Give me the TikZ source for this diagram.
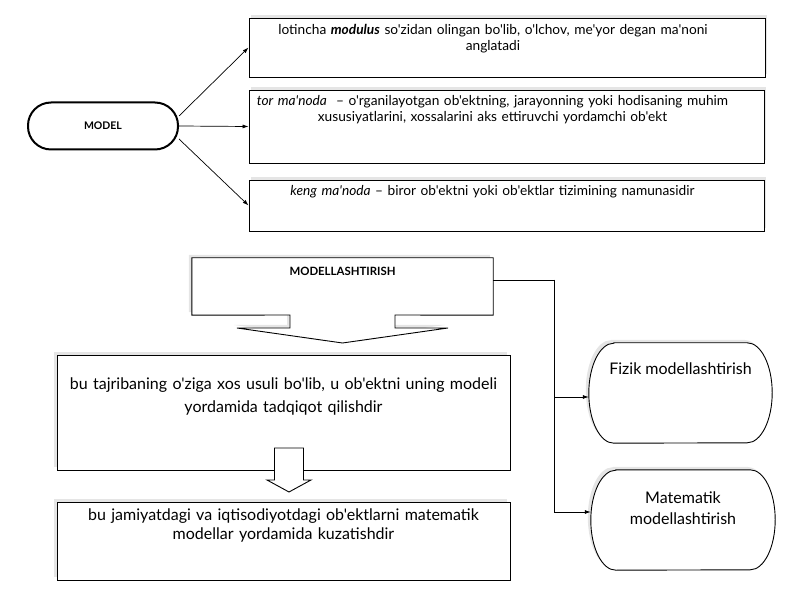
\documentclass[tikz,border=0pt]{standalone}
\usepackage{fontspec}
\setmainfont{Lato}[Ligatures=TeXOff]
\usetikzlibrary{arrows.meta,shadows}
\begin{document}
\begin{tikzpicture}[x=1pt,y=1pt,
	kbox/.style={draw,line width=0.9pt,fill=white,inner sep=0pt},
	soya1/.style={drop shadow={shadow xshift=2pt,shadow yshift=3pt,fill=gray!40}},
	soya2/.style={drop shadow={shadow xshift=-3pt,shadow yshift=3pt,fill=gray!40}},
	matn/.style={inner sep=0pt,align=center,anchor=north},
	kichik/.style={font=\fontsize{13.7}{16}\selectfont},
	katta/.style={font=\fontsize{16}{23}\selectfont},
	ok/.style={-{Latex[length=6pt,width=4pt]},line width=0.7pt}]
	\useasboundingbox (0,0) rectangle (800,600);
	% MODEL va uning ta'riflari
	\node[kbox,line width=2pt,rounded corners=23pt,minimum width=150pt,minimum height=47pt,font=\bfseries\fontsize{10.5}{12}\selectfont] (model) at (103,474) {MODEL};
	\node[kbox,soya1,minimum width=516pt,minimum height=59pt] (t1) at (507,552.5) {};
	\node[kbox,soya1,minimum width=515pt,minimum height=73pt] (t2) at (506.5,473.5) {};
	\node[kbox,soya1,minimum width=515pt,minimum height=51pt] (t3) at (506.5,394.5) {};
	\node[matn,kichik,text width=510pt] (t1m) at ([xshift=-14pt,yshift=-7pt]t1.north) {lotincha \textbf{\textit{modulus}} so'zidan olingan bo'lib, o'lchov, me'yor degan ma'noni\\ anglatadi};
	\node[matn,kichik,text width=510pt] (t2m) at ([xshift=-14pt,yshift=-6pt]t2.north) {\textit{tor ma'noda}\ \ – o'rganilayotgan ob'ektning, jarayonning yoki hodisaning muhim\\ xususiyatlarini, xossalarini aks ettiruvchi yordamchi ob'ekt};
	\node[matn,kichik,text width=510pt] (t3m) at ([xshift=-14pt,yshift=-5.5pt]t3.north) {\textit{keng ma'noda} – biror ob'ektni yoki ob'ektlar tizimining namunasidir};
	\draw[ok] ([yshift=10pt]model.east) -- (t1.west);
	\draw[ok] (model.east) -- (t2.west);
	\draw[ok] ([yshift=-13pt]model.east) -- (t3.west);
	% MODELLASHTIRISH
	\node[inner sep=0pt,minimum width=301pt,minimum height=57pt] (mod) at (342.5,313.5) {};
	\draw[kbox,soya2] (mod.north west) -- (mod.north east) -- (mod.south east) -- (395,285) -- (395,272) -- (448,272) -- (342.5,257) -- (237,272) -- (290,272) -- (290,285) -- (mod.south west) -- cycle;
	\node[matn,font=\bfseries\fontsize{11.4}{13}\selectfont] (modm) at ([yshift=-8.9pt]mod.north) {MODELLASHTIRISH};
	\node[kbox,soya2,minimum width=453pt,minimum height=115pt] (c1) at (283.5,187.5) {};
	\node[kbox,soya2,minimum width=453pt,minimum height=78pt] (c2) at (283.5,59) {};
	\node[matn,katta,text width=450pt] (c1m) at ([yshift=-22.8pt]c1.north) {bu tajribaning o'ziga xos usuli bo'lib, u ob'ektni uning modeli\\ yordamida tadqiqot qilishdir};
	\node[matn,text width=450pt,font=\fontsize{16}{18.3}\selectfont] (c2m) at ([yshift=-7.3pt]c2.north) {bu jamiyatdagi va iqtisodiyotdagi ob'ektlarni matematik\\ modellar yordamida kuzatishdir};
	\draw[kbox] (274.5,152) -- (303.5,152) -- (303.5,120) -- (311,120) -- (289,108) -- (267,120) -- (274.5,120) -- cycle;
	% turlari
	\node[inner sep=0pt,minimum width=183pt,minimum height=100pt] (fizik) at (680.5,207) {};
	\node[inner sep=0pt,minimum width=184pt,minimum height=100pt] (mat) at (683,80) {};
	\foreach \n in {fizik,mat}
	\draw[kbox,soya2] ([xshift=25pt]\n.north west) -- ([xshift=-25pt]\n.north east) arc[start angle=90,end angle=-90,x radius=25pt,y radius=50pt] -- ([xshift=25pt]\n.south west) arc[start angle=270,end angle=90,x radius=25pt,y radius=50pt] -- cycle;
	\node[matn,katta] (fizikm) at ([yshift=-20pt]fizik.north) {Fizik modellashtirish};
	\node[matn,font=\fontsize{16}{21}\selectfont] (matm) at ([yshift=-21.5pt]mat.north) {Matematik\\ modellashtirish};
	\coordinate (tarmoq) at (554,320);
	\draw[line width=0.7pt] ([yshift=6.5pt]mod.east) -- (tarmoq);
	\draw[ok] (tarmoq) |- ([yshift=-4pt]fizik.west);
	\draw[ok] (tarmoq) |- ([yshift=8pt]mat.west);
\end{tikzpicture}
\end{document}
